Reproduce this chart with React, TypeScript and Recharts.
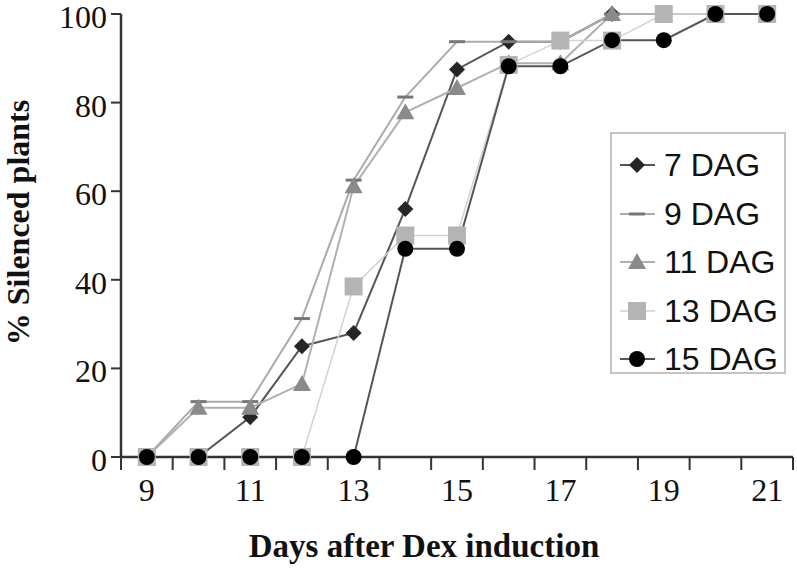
import { LineChart, Line, XAxis, YAxis, Legend, Label } from "recharts";

// days after Dex induction (one category per day)
const days = [9, 10, 11, 12, 13, 14, 15, 16, 17, 18, 19, 20, 21];
const xTickLabels = [9, 11, 13, 15, 17, 19, 21];
const yTicks = [0, 20, 40, 60, 80, 100];

// % silenced plants per sowing age
const dag7 = [0, 0, 9, 25, 28, 56, 87.5, 93.75, 93.75, 100, 100, 100, 100];
const dag9 = [0, 12.5, 12.5, 31.25, 62.5, 81.25, 93.75, 93.75, 93.75, 100, 100, 100, 100];
const dag11 = [0, 11.1, 11.1, 16.5, 61.1, 77.8, 83.3, 88.9, 88.9, 100, 100, 100, 100];
const dag13 = [0, 0, 0, 0, 38.5, 50, 50, 88.5, 94, 94, 100, 100, 100];
const dag15 = [0, 0, 0, 0, 0, 47, 47, 88.2, 88.2, 94.1, 94.1, 100, 100];

const data = days.map((day, i) => ({
  day,
  dag7: dag7[i],
  dag9: dag9[i],
  dag11: dag11[i],
  dag13: dag13[i],
  dag15: dag15[i],
}));

// tick marks sit on the day boundaries, labels on odd days
const boundaries = [...days.map((d) => d - 0.5), days[days.length - 1] + 0.5];
const xTicks = [...boundaries, ...xTickLabels].sort((a, b) => a - b);

const AXIS = "#333";
const SERIF = '"Liberation Serif", "Times New Roman", serif';
const SANS = '"Liberation Sans", Arial, sans-serif';

type Marker = (cx: number, cy: number) => JSX.Element;

const diamond: Marker = (cx, cy) => (
  <path d={`M${cx},${cy - 8}L${cx + 8},${cy}L${cx},${cy + 8}L${cx - 8},${cy}Z`} fill="#262626" />
);
const dash: Marker = (cx, cy) => <rect x={cx - 8} y={cy - 1.5} width={16} height={3} fill="#777" />;
const triangle: Marker = (cx, cy) => (
  <path d={`M${cx},${cy - 9}L${cx + 9},${cy + 7}L${cx - 9},${cy + 7}Z`} fill="#8a8a8a" />
);
const square: Marker = (cx, cy) => <rect x={cx - 9} y={cy - 9} width={18} height={18} fill="#b4b4b4" />;
const circle: Marker = (cx, cy) => <circle cx={cx} cy={cy} r={8} fill="#000" />;

const series = [
  { key: "dag7", name: "7 DAG", stroke: "#555", width: 2, marker: diamond },
  { key: "dag9", name: "9 DAG", stroke: "#aaa", width: 2, marker: dash },
  { key: "dag11", name: "11 DAG", stroke: "#b0b0b0", width: 2, marker: triangle },
  { key: "dag13", name: "13 DAG", stroke: "#d2d2d2", width: 1.5, marker: square },
  { key: "dag15", name: "15 DAG", stroke: "#555", width: 2, marker: circle },
];

// eslint-disable-next-line @typescript-eslint/no-explicit-any
function XTick({ x, y, payload }: any) {
  const v = payload.value;
  if (!Number.isInteger(v)) {
    return <line x1={x} x2={x} y1={y} y2={y + 13} stroke={AXIS} strokeWidth={2} />;
  }
  if (!xTickLabels.includes(v)) return <g />;
  return (
    <text x={x} y={y + 44} textAnchor="middle" fontFamily={SERIF} fontSize={32} fill="#111">
      {v}
    </text>
  );
}

// eslint-disable-next-line @typescript-eslint/no-explicit-any
function YTick({ x, y, payload }: any) {
  return (
    <g>
      <line x1={x - 10} x2={x} y1={y} y2={y} stroke={AXIS} strokeWidth={2} />
      <text
        x={x - 14}
        y={y + 3}
        textAnchor="end"
        dominantBaseline="central"
        fontFamily={SERIF}
        fontSize={32}
        fill="#111"
      >
        {payload.value}
      </text>
    </g>
  );
}

function LegendBox() {
  return (
    <div style={{ paddingTop: 7 }}>
      {series.map((s) => (
        <div
          key={s.key}
          style={{ display: "flex", alignItems: "center", height: 48.5, whiteSpace: "nowrap" }}
        >
          <svg width={44} height={30} style={{ marginLeft: 8, flexShrink: 0 }}>
            <line x1={0} x2={35} y1={15} y2={15} stroke={s.stroke} strokeWidth={s.width} />
            {s.marker(17, 15)}
          </svg>
          <span style={{ fontFamily: SANS, fontSize: 32, color: "#111", lineHeight: 1 }}>{s.name}</span>
        </div>
      ))}
    </div>
  );
}

export default function App() {
  return (
    <div style={{ position: "absolute", left: 0, top: 0, background: "#fff" }}>
      <LineChart width={797} height={568} data={data} margin={{ top: 14, right: 4, bottom: 0, left: 0 }}>
        <XAxis
          dataKey="day"
          type="number"
          domain={[boundaries[0], boundaries[boundaries.length - 1]]}
          ticks={xTicks}
          interval={0}
          tick={<XTick />}
          tickLine={false}
          tickSize={0}
          tickMargin={0}
          height={111}
          axisLine={{ stroke: AXIS, strokeWidth: 2.5 }}
        >
          <Label
            content={(props: any) => {
              const vb = props.viewBox;
              return (
                <text
                  x={vb.x + vb.width / 2 - 33}
                  y={vb.y + 100}
                  textAnchor="middle"
                  fontFamily={SERIF}
                  fontWeight="bold"
                  fontSize={33}
                  fill="#111"
                >
                  Days after Dex induction
                </text>
              );
            }}
          />
        </XAxis>
        <YAxis
          domain={[0, 100]}
          ticks={yTicks}
          interval={0}
          tick={<YTick />}
          tickLine={false}
          tickSize={0}
          tickMargin={0}
          width={121}
          axisLine={{ stroke: AXIS, strokeWidth: 2.5 }}
        >
          <Label
            content={(props: any) => {
              const vb = props.viewBox;
              const cy = vb.y + vb.height / 2 - 13;
              return (
                <text
                  x={18}
                  y={cy}
                  transform={`rotate(-90, 18, ${cy})`}
                  textAnchor="middle"
                  dominantBaseline="central"
                  fontFamily={SERIF}
                  fontWeight="bold"
                  fontSize={32}
                  fill="#111"
                >
                  % Silenced plants
                </text>
              );
            }}
          />
        </YAxis>
        <Legend
          layout="horizontal"
          verticalAlign="middle"
          align="center"
          content={<LegendBox />}
          wrapperStyle={{
            left: 610,
            top: 132,
            width: 176,
            height: 242,
            border: "2px solid #c4c4c4",
            boxSizing: "border-box",
            background: "#fff",
          }}
        />
        {series.map((s) => (
          <Line
            key={s.key}
            dataKey={s.key}
            name={s.name}
            type="linear"
            stroke={s.stroke}
            strokeWidth={s.width}
            isAnimationActive={false}
            // eslint-disable-next-line @typescript-eslint/no-explicit-any
            dot={(p: any) => <g key={`${s.key}-${p.index}`}>{s.marker(p.cx, p.cy)}</g>}
            activeDot={false}
          />
        ))}
      </LineChart>
    </div>
  );
}
